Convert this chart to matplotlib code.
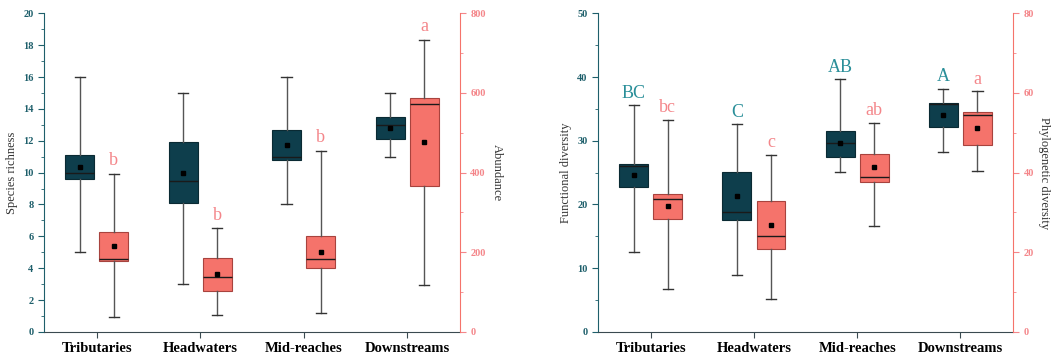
import matplotlib.pyplot as plt
import numpy as np

plt.rcParams['font.family'] = ['Liberation Serif', 'DejaVu Serif']

# ======== data ========
sites = ['Tributaries', 'Headwaters', 'Mid-reaches', 'Downstreams']

# species richness: whislo, q1, median, q3, whishi, mean
rich_lo = [5, 3, 8, 11]
rich_q1 = [9.6, 8.1, 10.8, 12.1]
rich_med = [10, 9.5, 11, 13]
rich_q3 = [11.1, 11.9, 12.7, 13.5]
rich_hi = [16, 15, 16, 15]
rich_mean = [10.35, 10, 11.75, 12.8]

# abundance
abun_lo = [38, 43, 48, 117]
abun_q1 = [177, 102, 161, 367]
abun_med = [184, 137, 184, 573]
abun_q3 = [252, 186, 242, 587]
abun_hi = [397, 260, 455, 733]
abun_mean = [215, 145, 201, 477]
abun_letters = ['b', 'b', 'b', 'a']

# functional diversity
fd_lo = [12.5, 8.9, 25.1, 28.3]
fd_q1 = [22.8, 17.6, 27.5, 32.2]
fd_med = [26, 18.8, 29.6, 35.8]
fd_q3 = [26.3, 25.1, 31.6, 35.9]
fd_hi = [35.6, 32.6, 39.7, 38.2]
fd_mean = [24.6, 21.4, 29.6, 34.1]
fd_letters = ['BC', 'C', 'AB', 'A']

# phylogenetic diversity
pd_lo = [10.9, 8.3, 26.5, 40.4]
pd_q1 = [28.4, 20.9, 37.7, 47.0]
pd_med = [33.3, 24.1, 38.8, 54.4]
pd_q3 = [34.7, 32.8, 44.8, 55.1]
pd_hi = [53.3, 44.5, 52.5, 60.4]
pd_mean = [31.6, 26.8, 41.5, 51.1]
pd_letters = ['bc', 'c', 'ab', 'a']

DARK = '#0E3E4C'
PINK = '#F5736B'
TEAL_TXT = '#1E5F6B'
PINK_TXT = '#F4868A'
TEAL_LET = '#2A8F99'


def stats(lo, q1, med, q3, hi, mean):
    return [dict(whislo=a, q1=b, med=c, q3=d, whishi=e, mean=f, fliers=[])
            for a, b, c, d, e, f in zip(lo, q1, med, q3, hi, mean)]


def draw_boxes(ax, st, pos, face, edge):
    ax.bxp(st, positions=pos, widths=0.28, patch_artist=True, showmeans=True,
           showfliers=False, manage_ticks=False,
           boxprops=dict(facecolor=face, edgecolor=edge, linewidth=0.8),
           medianprops=dict(color='#1a1a1a', linewidth=1.0),
           whiskerprops=dict(color='#555555', linewidth=1.0),
           capprops=dict(color='#333333', linewidth=1.0),
           capwidths=0.1,
           meanprops=dict(marker='s', markersize=3, markerfacecolor='black',
                          markeredgecolor='black'))


def style_pair(ax, ax2, ylab, ylab2, ymax, ymax2, ystep, ystep2):
    x = np.arange(len(sites))
    ax.set_xlim(-0.51, 3.51)
    ax.set_ylim(0, ymax)
    ax2.set_ylim(0, ymax2)
    ax.set_xticks(x)
    ax.set_xticklabels(sites, fontsize=10.5, fontweight='bold')
    ax.set_yticks(np.arange(0, ymax + 0.01, ystep))
    ax.set_yticks(np.arange(ystep / 2, ymax, ystep), minor=True)
    ax2.set_yticks(np.arange(0, ymax2 + 0.01, ystep2))
    ax2.set_yticks(np.arange(ystep2 / 2, ymax2, ystep2), minor=True)
    for s in ['top', 'right']:
        ax.spines[s].set_visible(False)
    for s in ['top', 'left', 'bottom']:
        ax2.spines[s].set_visible(False)
    ax.spines['left'].set_color(TEAL_TXT)
    ax.spines['bottom'].set_color('#3a4a50')
    ax2.spines['right'].set_color(PINK)
    ax.tick_params(axis='y', which='both', direction='out', colors=TEAL_TXT,
                   labelsize=7.5)
    ax.tick_params(axis='y', which='major', length=4)
    ax.tick_params(axis='y', which='minor', length=2)
    ax.tick_params(axis='x', direction='out', length=4, color='#3a4a50', pad=3)
    for lab in ax.get_yticklabels():
        lab.set_fontweight('bold')
    ax2.tick_params(axis='y', which='both', direction='out', colors=PINK_TXT,
                    labelsize=7.5)
    ax2.tick_params(axis='y', which='major', length=4)
    ax2.tick_params(axis='y', which='minor', length=2)
    for lab in ax2.get_yticklabels():
        lab.set_fontweight('bold')
    ax.set_ylabel(ylab, fontsize=9, color='#333333', labelpad=4)
    ax2.set_ylabel(ylab2, fontsize=9, color='#333333', rotation=270, labelpad=12)


fig = plt.figure(figsize=(10.53, 3.6), dpi=100)
axL = fig.add_axes([0.0418, 0.078, 0.395, 0.885])
axL2 = axL.twinx()
axR = fig.add_axes([0.568, 0.078, 0.394, 0.885])
axR2 = axR.twinx()

x = np.arange(len(sites))
off = 0.165

# ======== left panel ========
draw_boxes(axL, stats(rich_lo, rich_q1, rich_med, rich_q3, rich_hi, rich_mean),
           x - off, DARK, '#0a2a33')
draw_boxes(axL2, stats(abun_lo, abun_q1, abun_med, abun_q3, abun_hi, abun_mean),
           x + off, PINK, '#a8433e')
for xi, hi, let in zip(x, abun_hi, abun_letters):
    axL2.text(xi + off, hi + 12, let, ha='center', va='bottom', fontsize=13,
              color=PINK_TXT)
style_pair(axL, axL2, 'Species richness', 'Abundance', 20, 800, 2, 200)

# ======== right panel ========
draw_boxes(axR, stats(fd_lo, fd_q1, fd_med, fd_q3, fd_hi, fd_mean),
           x - off, DARK, '#0a2a33')
draw_boxes(axR2, stats(pd_lo, pd_q1, pd_med, pd_q3, pd_hi, pd_mean),
           x + off, PINK, '#a8433e')
for xi, hi, let in zip(x, fd_hi, fd_letters):
    axR.text(xi - off, hi + 0.5, let, ha='center', va='bottom', fontsize=13,
             color=TEAL_LET)
for xi, hi, let in zip(x, pd_hi, pd_letters):
    axR2.text(xi + off, hi + 0.9, let, ha='center', va='bottom', fontsize=13,
              color=PINK_TXT)
style_pair(axR, axR2, 'Functional diversity', 'Phylogenetic diversity',
           50, 80, 10, 20)

fig.savefig('out.png', dpi=100, facecolor='white')
